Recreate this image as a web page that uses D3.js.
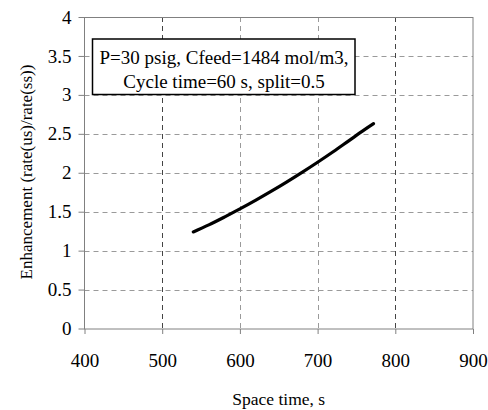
<!DOCTYPE html>
<html><head><meta charset="utf-8">
<script src="https://cdn.jsdelivr.net/npm/d3@7"></script>
<style>body{margin:0;background:#fff}svg text{font-family:"Liberation Serif","Times New Roman",serif;fill:#000}</style>
</head><body><svg id="c" width="488" height="410"></svg>
<script>
const spaceTime = [540, 560, 580, 600, 620, 640, 660, 680, 700, 720, 740, 760, 772];
const enhancement = [1.24, 1.33, 1.43, 1.535, 1.645, 1.76, 1.88, 2.005, 2.135, 2.27, 2.41, 2.55, 2.63];
const xTicks = [400, 500, 600, 700, 800, 900];
const yTicks = [0, 0.5, 1, 1.5, 2, 2.5, 3, 3.5, 4];
const xTitle = "Space time, s";
const yTitle = "Enhancement (rate(us)/rate(ss))";
const noteLines = ["P=30 psig, Cfeed=1484 mol/m3,", "Cycle time=60 s, split=0.5"];

const svg = d3.select("#c");
const L = 84.5, R = 473, T = 17, B = 328.5;
const x = d3.scaleLinear().domain([400, 900]).range([L, R]);
const y = d3.scaleLinear().domain([0, 4]).range([B, T]);

// gridlines
svg.append("g").selectAll("line").data(yTicks.filter(d => d > 0 && d < 4)).join("line")
  .attr("x1", L).attr("x2", R).attr("y1", d => Math.round(y(d)) + 0.5).attr("y2", d => Math.round(y(d)) + 0.5)
  .attr("stroke", "#9a9a9a").attr("stroke-dasharray", "5,4");
svg.append("g").selectAll("line").data(xTicks.filter(d => d > 400 && d < 900)).join("line")
  .attr("x1", d => Math.round(x(d)) + 0.5).attr("x2", d => Math.round(x(d)) + 0.5).attr("y1", T).attr("y2", B)
  .attr("stroke", d => (d === 500 || d === 800) ? "#444" : "#9a9a9a").attr("stroke-dasharray", "5,4");

// frame
svg.append("rect").attr("x", L).attr("y", T + 0.5).attr("width", R - L).attr("height", B - T)
  .attr("fill", "none").attr("stroke", "#808080");

// axes
const xAxis = svg.append("g").attr("transform", `translate(0,${B + 0.5})`)
  .call(d3.axisBottom(x).tickValues(xTicks).tickSize(5).tickPadding(20).tickFormat(d3.format("d")));
const yAxis = svg.append("g").attr("transform", `translate(${L},0)`)
  .call(d3.axisLeft(y).tickValues(yTicks).tickSize(6).tickPadding(7).tickFormat(d => String(d)));
[xAxis, yAxis].forEach(g => {
  g.select(".domain").remove();
  g.selectAll("line").attr("stroke", "#808080");
  g.selectAll("text").attr("font-size", 19).attr("font-family", "Liberation Serif");
});

// curve
svg.append("path").datum(spaceTime.map((v, i) => [v, enhancement[i]]))
  .attr("d", d3.line().x(d => x(d[0])).y(d => y(d[1])).curve(d3.curveCatmullRom))
  .attr("fill", "none").attr("stroke", "#000").attr("stroke-width", 3.2).attr("stroke-linecap", "round");

// annotation box
svg.append("rect").attr("x", 92.5).attr("y", 39).attr("width", 262.5).attr("height", 55.5)
  .attr("fill", "#fff").attr("stroke", "#000").attr("stroke-width", 1.5);
svg.append("g").selectAll("text").data(noteLines).join("text")
  .attr("x", 224).attr("y", (d, i) => 63.5 + i * 24).attr("text-anchor", "middle").attr("font-size", 19).text(d => d);

// titles
svg.append("text").attr("x", (L + R) / 2).attr("y", 405).attr("text-anchor", "middle").attr("font-size", 17.5).text(xTitle);
svg.append("text").attr("transform", `translate(31.5,172) rotate(-90)`).attr("text-anchor", "middle")
  .attr("font-size", 17).text(yTitle);
</script></body></html>
